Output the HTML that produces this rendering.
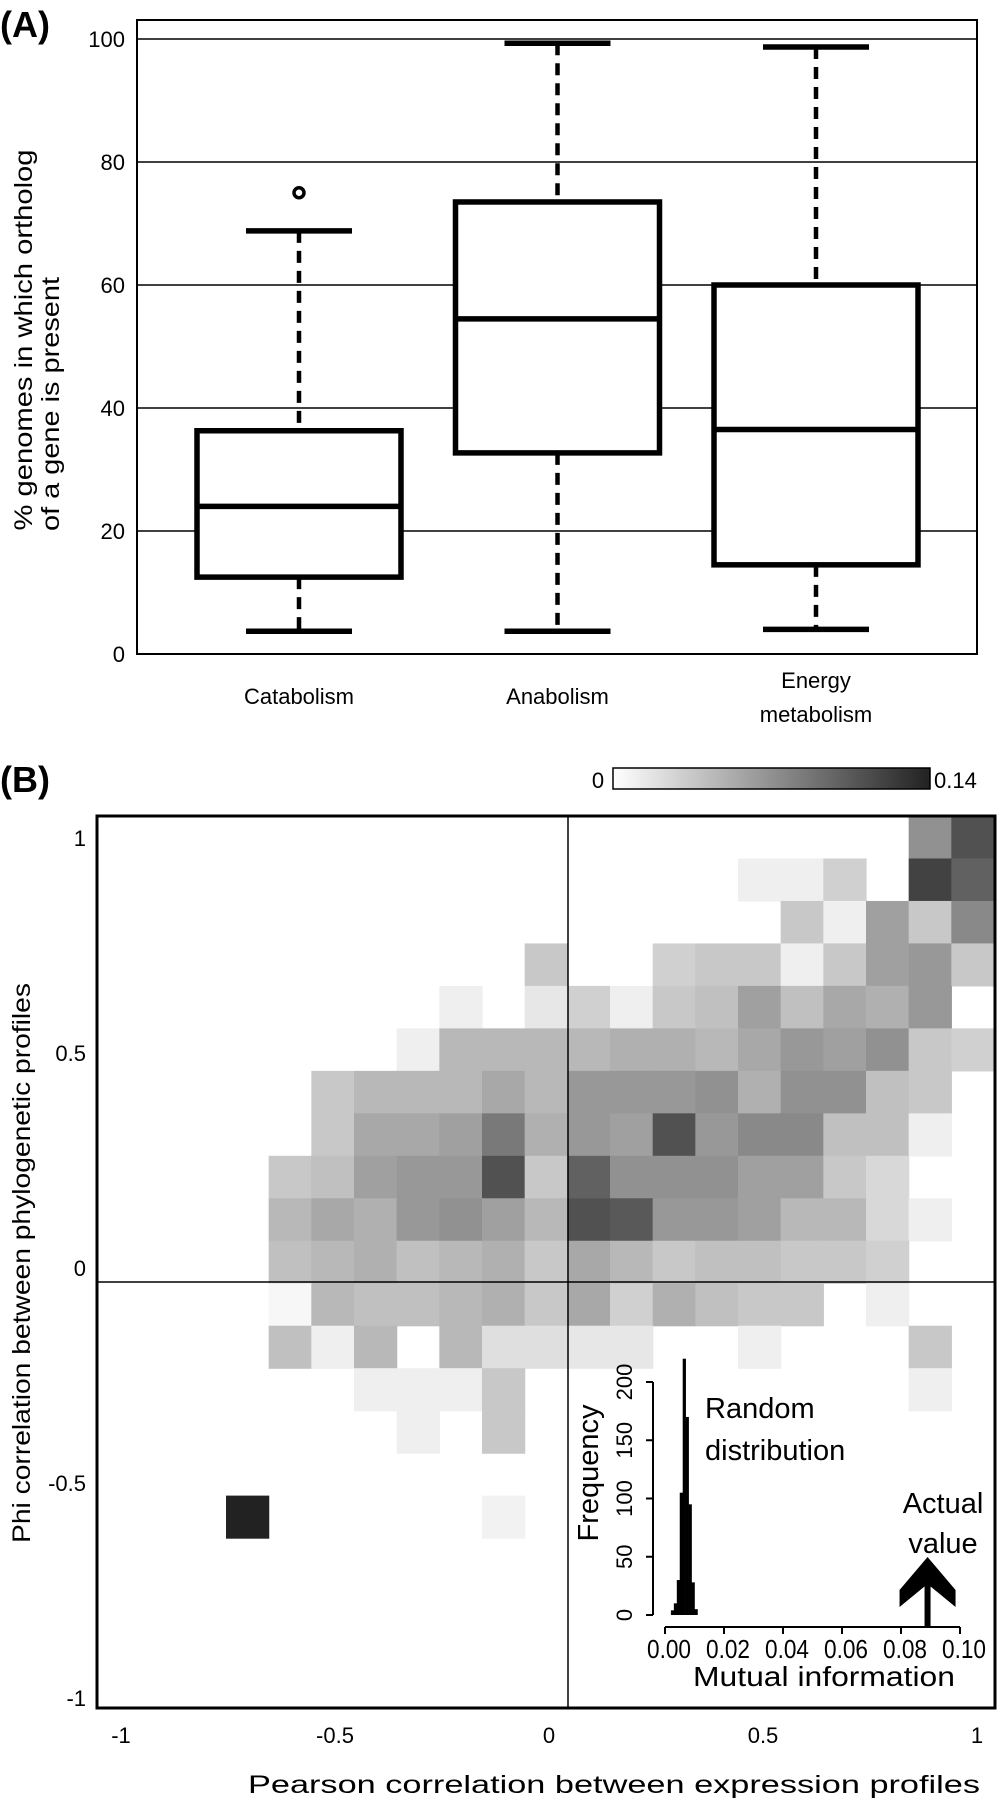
<!DOCTYPE html>
<html><head><meta charset="utf-8"><title>Ortholog presence and correlation heatmap</title>
<style>
html,body{margin:0;padding:0;background:#fff;}
svg{display:block;font-family:"Liberation Sans",Arial,sans-serif;}
</style></head>
<body>
<svg id="fig" width="998" height="1800" viewBox="0 0 998 1800" xmlns="http://www.w3.org/2000/svg">
  <!-- Panel A static -->
  <text x="0" y="37" font-size="36" font-weight="bold">(A)</text>
  <g id="gridA"></g>
  <rect x="137" y="20" width="840" height="634" fill="none" stroke="#000" stroke-width="2"/>
  <g id="ticksA"></g>
  <g id="boxes"></g>
  <g id="catLabels"></g>
  <text transform="translate(32,340) rotate(-90)" text-anchor="middle" font-size="25" textLength="381" lengthAdjust="spacingAndGlyphs">% genomes in which ortholog</text>
  <text transform="translate(59,404) rotate(-90)" text-anchor="middle" font-size="25" textLength="254" lengthAdjust="spacingAndGlyphs">of a gene is present</text>

  <!-- Panel B static -->
  <text x="0" y="792" font-size="36" font-weight="bold">(B)</text>
  <defs>
    <linearGradient id="cbGrad" x1="0" x2="1" y1="0" y2="0">
      <stop offset="0" stop-color="#ffffff"/>
      <stop offset="1" stop-color="#222222"/>
    </linearGradient>
  </defs>
  <rect x="613" y="768" width="317" height="21" fill="url(#cbGrad)" stroke="#000" stroke-width="1.5"/>
  <text x="598" y="788" font-size="22" text-anchor="middle">0</text>
  <text x="934" y="788" font-size="22">0.14</text>
  <g id="heat"></g>
  <line x1="568" y1="816" x2="568" y2="1708" stroke="#000" stroke-width="1.5"/>
  <line x1="97" y1="1282" x2="995" y2="1282" stroke="#000" stroke-width="1.5"/>
  <rect x="97" y="816" width="898" height="892" fill="none" stroke="#000" stroke-width="3"/>
  <g id="ticksB"></g>
  <text transform="translate(30,1263) rotate(-90)" text-anchor="middle" font-size="25" textLength="560" lengthAdjust="spacingAndGlyphs">Phi correlation between phylogenetic profiles</text>
  <text x="614" y="1793" text-anchor="middle" font-size="25" textLength="732" lengthAdjust="spacingAndGlyphs">Pearson correlation between expression profiles</text>

  <!-- Inset -->
  <g id="inset"></g>
  <text x="705" y="1418" font-size="29">Random</text>
  <text x="705" y="1460" font-size="29">distribution</text>
  <text x="943" y="1513" font-size="29" text-anchor="middle">Actual</text>
  <text x="943" y="1553" font-size="29" text-anchor="middle">value</text>
  <text transform="translate(598,1473) rotate(-90)" text-anchor="middle" font-size="29">Frequency</text>
  <text x="824" y="1686" text-anchor="middle" font-size="28" textLength="262" lengthAdjust="spacingAndGlyphs">Mutual information</text>
</svg>
<script>
// ---------- Panel A data ----------
const categories = ["Catabolism", "Anabolism", "Energy metabolism"];
const whiskerLow = [3.7, 3.7, 4.0];
const q1 = [12.5, 32.7, 14.5];
const medians = [24.0, 54.5, 36.5];
const q3 = [36.3, 73.5, 60.0];
const whiskerHigh = [68.8, 99.3, 98.7];
const outliers = [[75], [], []];
const yTicksA = [0, 20, 40, 60, 80, 100];

// ---------- Panel B data ----------
const xTicksB = [-1, -0.5, 0, 0.5, 1];
const yTicksB = [-1, -0.5, 0, 0.5, 1];
const heatRow0  = [0,0,0,0,0,0,0,0,0,0,0,0,0,0,0,0,0,0,0,0.07,0.11];
const heatRow1  = [0,0,0,0,0,0,0,0,0,0,0,0,0,0,0,0.01,0.01,0.03,0,0.12,0.10];
const heatRow2  = [0,0,0,0,0,0,0,0,0,0,0,0,0,0,0,0,0.035,0.01,0.06,0.035,0.075];
const heatRow3  = [0,0,0,0,0,0,0,0,0,0,0.035,0,0,0.03,0.035,0.035,0.01,0.035,0.06,0.065,0.035];
const heatRow4  = [0,0,0,0,0,0,0,0,0.01,0,0.015,0.03,0.01,0.035,0.04,0.06,0.04,0.055,0.05,0.065,0];
const heatRow5  = [0,0,0,0,0,0,0,0.01,0.045,0.045,0.045,0.045,0.05,0.05,0.045,0.055,0.065,0.06,0.07,0.035,0.03];
const heatRow6  = [0,0,0,0,0,0.035,0.045,0.045,0.045,0.055,0.045,0.065,0.065,0.065,0.07,0.05,0.07,0.07,0.04,0.035,0];
const heatRow7  = [0,0,0,0,0,0.035,0.055,0.055,0.06,0.085,0.05,0.065,0.06,0.11,0.065,0.075,0.075,0.04,0.04,0.01,0];
const heatRow8  = [0,0,0,0,0.035,0.04,0.06,0.065,0.065,0.11,0.035,0.1,0.07,0.07,0.07,0.06,0.06,0.035,0.025,0,0];
const heatRow9  = [0,0,0,0,0.045,0.055,0.05,0.065,0.07,0.06,0.045,0.11,0.105,0.065,0.065,0.06,0.045,0.045,0.025,0.01,0];
const heatRow10 = [0,0,0,0,0.04,0.045,0.05,0.04,0.045,0.05,0.035,0.055,0.045,0.035,0.04,0.04,0.035,0.035,0.03,0,0];
const heatRow11 = [0,0,0,0,0.005,0.045,0.04,0.04,0.045,0.05,0.035,0.055,0.03,0.05,0.04,0.035,0.035,0,0.01,0,0];
const heatRow12 = [0,0,0,0,0.04,0.01,0.045,0,0.045,0.02,0.02,0.015,0.015,0,0,0.01,0,0,0,0.035,0];
const heatRow13 = [0,0,0,0,0,0,0.01,0.01,0.01,0.035,0,0,0,0,0,0,0,0,0,0.01,0];
const heatRow14 = [0,0,0,0,0,0,0,0.01,0,0.035,0,0,0,0,0,0,0,0,0,0,0];
const heatRow15 = [0,0,0,0,0,0,0,0,0,0,0,0,0,0,0,0,0,0,0,0,0];
const heatRow16 = [0,0,0,0.14,0,0,0,0,0,0.008,0,0,0,0,0,0,0,0,0,0,0];
const heatRow17 = [0,0,0,0,0,0,0,0,0,0,0,0,0,0,0,0,0,0,0,0,0];
const heatRow18 = [0,0,0,0,0,0,0,0,0,0,0,0,0,0,0,0,0,0,0,0,0];
const heatRow19 = [0,0,0,0,0,0,0,0,0,0,0,0,0,0,0,0,0,0,0,0,0];
const heatRow20 = [0,0,0,0,0,0,0,0,0,0,0,0,0,0,0,0,0,0,0,0,0];
const heatMax = 0.14;

// ---------- Inset data ----------
const histBins = [0.002, 0.003, 0.004, 0.005, 0.006, 0.007, 0.008, 0.009, 0.010];
const histCounts = [4, 10, 30, 105, 220, 170, 95, 28, 5];
const insetXTicks = [0.00, 0.02, 0.04, 0.06, 0.08, 0.10];
const insetYTicks = [0, 50, 100, 150, 200];
const actualValue = 0.089;

const NS = "http://www.w3.org/2000/svg";
function mk(tag, attrs, parent) {
  const e = document.createElementNS(NS, tag);
  for (const k in attrs) e.setAttribute(k, attrs[k]);
  parent.appendChild(e);
  return e;
}

// ---------- Panel A ----------
const yA = v => 654 - 6.15 * v;
const xA = i => 299 + 258.5 * i;
const gridA = document.getElementById("gridA");
const ticksA = document.getElementById("ticksA");
yTicksA.forEach(t => {
  if (t > 0) {
    const l = mk("line", {x1: 137, x2: 977, y1: yA(t), y2: yA(t), stroke: "#000", "stroke-width": 1.5}, gridA);
    
    
  }
  const tx = mk("text", {x: 125, y: yA(t) + 8, "font-size": 22, "text-anchor": "end"}, ticksA);
  tx.textContent = String(t);
  
  
});
const boxes = document.getElementById("boxes");
categories.forEach((c, i) => {
  const cx = xA(i);
  const g = mk("g", {}, boxes);
  
  
  mk("line", {x1: cx, x2: cx, y1: yA(whiskerHigh[i]), y2: yA(q3[i]), stroke: "#000", "stroke-width": 4.5, "stroke-dasharray": "12 8"}, g);
  mk("line", {x1: cx, x2: cx, y1: yA(q1[i]), y2: yA(whiskerLow[i]), stroke: "#000", "stroke-width": 4.5, "stroke-dasharray": "12 8"}, g);
  mk("line", {x1: cx - 53, x2: cx + 53, y1: yA(whiskerHigh[i]), y2: yA(whiskerHigh[i]), stroke: "#000", "stroke-width": 5.5}, g);
  mk("line", {x1: cx - 53, x2: cx + 53, y1: yA(whiskerLow[i]), y2: yA(whiskerLow[i]), stroke: "#000", "stroke-width": 5.5}, g);
  mk("rect", {x: cx - 102, y: yA(q3[i]), width: 204, height: yA(q1[i]) - yA(q3[i]), fill: "#fff", stroke: "#000", "stroke-width": 5.5}, g);
  mk("line", {x1: cx - 102, x2: cx + 102, y1: yA(medians[i]), y2: yA(medians[i]), stroke: "#000", "stroke-width": 5.5}, g);
  outliers[i].forEach(o => {
    const c2 = mk("circle", {cx: cx, cy: yA(o), r: 5, fill: "none", stroke: "#000", "stroke-width": 3.5}, g);
    
    
  });
});
const catLabels = document.getElementById("catLabels");
categories.forEach((c, i) => {
  const parts = c === "Energy metabolism" ? ["Energy", "metabolism"] : [c];
  parts.forEach((p, j) => {
    const t = mk("text", {x: xA(i), y: parts.length === 1 ? 704 : 688 + 34 * j, "font-size": 22, "text-anchor": "middle"}, catLabels);
    t.textContent = p;
    
    
  });
});

// ---------- Panel B ----------
const heatRows = [heatRow0,heatRow1,heatRow2,heatRow3,heatRow4,heatRow5,heatRow6,heatRow7,heatRow8,heatRow9,heatRow10,heatRow11,heatRow12,heatRow13,heatRow14,heatRow15,heatRow16,heatRow17,heatRow18,heatRow19,heatRow20];
const colX = c => 98 + c * (896 / 21);
const rowY = r => 816 + r * (892 / 21);
const grayOf = v => { const g = Math.round(255 - (v / heatMax) * 221); return "rgb(" + g + "," + g + "," + g + ")"; };
const heat = document.getElementById("heat");
heatRows.forEach((row, r) => {
  row.forEach((v, c) => {
    if (v <= 0) return;
    const rc = mk("rect", {x: colX(c), y: rowY(r), width: colX(c + 1) - colX(c) + 0.6, height: rowY(r + 1) - rowY(r) + 0.6, fill: grayOf(v)}, heat);
    
    
  });
});
const xB = v => 549 + 428 * v;
const yB = v => 1268 - 430 * v;
const ticksB = document.getElementById("ticksB");
xTicksB.forEach(t => {
  const tx = mk("text", {x: xB(t), y: 1743, "font-size": 22, "text-anchor": "middle"}, ticksB);
  tx.textContent = String(t);
  
  
});
yTicksB.forEach(t => {
  const tx = mk("text", {x: 86, y: yB(t) + 8, "font-size": 22, "text-anchor": "end"}, ticksB);
  tx.textContent = String(t);
  
  
});

// ---------- Inset ----------
const xI = m => 665 + 2950 * m;
const yI = f => 1615 - 1.165 * f;
const inset = document.getElementById("inset");
const yAxis = mk("line", {x1: 653, x2: 653, y1: yI(0), y2: yI(200), stroke: "#000", "stroke-width": 2}, inset);


insetYTicks.forEach(t => {
  mk("line", {x1: 646, x2: 653, y1: yI(t), y2: yI(t), stroke: "#000", "stroke-width": 2}, inset);
  const tx = mk("text", {transform: "translate(632," + yI(t) + ") rotate(-90)", "font-size": 22, "text-anchor": "middle"}, inset);
  tx.textContent = String(t);
  
  
});
const xAxis = mk("line", {x1: xI(0), x2: xI(0.1), y1: 1627, y2: 1627, stroke: "#000", "stroke-width": 2}, inset);


insetXTicks.forEach(t => {
  mk("line", {x1: xI(t), x2: xI(t), y1: 1627, y2: 1634, stroke: "#000", "stroke-width": 2}, inset);
  const tx = mk("text", {x: xI(t) + 4, y: 1658, "font-size": 26, "text-anchor": "middle", textLength: 44, lengthAdjust: "spacingAndGlyphs"}, inset);
  tx.textContent = t.toFixed(2);
  
  
});
histBins.forEach((b, i) => {
  const br = mk("rect", {x: xI(b), y: yI(histCounts[i]), width: xI(0.001) - xI(0) + 0.3, height: yI(0) - yI(histCounts[i]), fill: "#000"}, inset);
  
  
});
const ax = xI(actualValue);
const arrow = mk("g", {}, inset);


mk("rect", {x: ax - 3, y: 1580, width: 6, height: 47, fill: "#000"}, arrow);
mk("polygon", {points: [ax + "," + 1557, (ax + 28) + "," + 1590, (ax + 28) + "," + 1607, ax + "," + 1584, (ax - 28) + "," + 1607, (ax - 28) + "," + 1590].join(" "), fill: "#000"}, arrow);
</script>
</body></html>
